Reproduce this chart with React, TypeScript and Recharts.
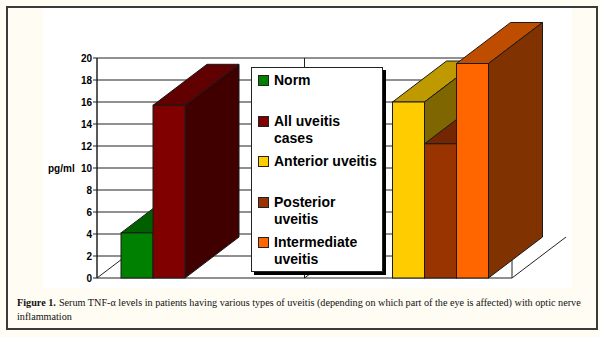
import { BarChart, Bar, XAxis, YAxis, CartesianGrid, Legend } from "recharts";

// two groups on the category axis; each series only has a value in one of them
const categories = ["control", "uveitis"];
const seriesNames = [
  "Norm",
  "All uveitis cases",
  "Anterior uveitis",
  "Posterior uveitis",
  "Intermediate uveitis",
];
const seriesColors = ["#008000", "#800000", "#ffcc00", "#993300", "#ff6600"];
const normValues = [4.1, null];
const allUveitisValues = [15.7, null];
const anteriorValues = [null, 16.0];
const posteriorValues = [null, 12.2];
const intermediateValues = [null, 19.5];
const yTicks = [0, 2, 4, 6, 8, 10, 12, 14, 16, 18, 20];
const captionLines = [
  "Serum TNF-α levels in patients having various types of uveitis (depending on which part of the eye is affected) with optic nerve",
  "inflammation",
];

const seriesValues = [
  normValues,
  allUveitisValues,
  anteriorValues,
  posteriorValues,
  intermediateValues,
];

const data = categories.map((cat, i) => {
  const row: Record<string, string | number | null> = { cat };
  seriesNames.forEach((name, s) => {
    row[name] = seriesValues[s][i];
  });
  return row;
});

const DEPTH_X = 54;
const DEPTH_Y = -41;
const EDGE = "#1a1a1a";
const AXIS_FONT = "'Liberation Sans', Arial, sans-serif";

function shade(hex: string, f: number) {
  const n = parseInt(hex.slice(1), 16);
  const r = Math.round(((n >> 16) & 255) * f);
  const g = Math.round(((n >> 8) & 255) * f);
  const b = Math.round((n & 255) * f);
  return `rgb(${r},${g},${b})`;
}

function Box3D(props: any) {
  const { x, y, width, height, fill } = props;
  if (!(height > 0)) return null;
  const top = `${x},${y} ${x + DEPTH_X},${y + DEPTH_Y} ${x + width + DEPTH_X},${y + DEPTH_Y} ${x + width},${y}`;
  const side = `${x + width},${y} ${x + width + DEPTH_X},${y + DEPTH_Y} ${x + width + DEPTH_X},${y + height + DEPTH_Y} ${x + width},${y + height}`;
  return (
    <g>
      <polygon points={top} fill={shade(fill, 0.75)} stroke={EDGE} strokeWidth={1} />
      <polygon points={side} fill={shade(fill, 0.5)} stroke={EDGE} strokeWidth={1} />
      <rect x={x} y={y} width={width} height={height} fill={fill} stroke={EDGE} strokeWidth={1} />
    </g>
  );
}

// category divider on the back wall plus its floor line
function GridVertical(props: any) {
  const { x1, y1, y2 } = props;
  const bottom = Math.max(y1, y2);
  return (
    <g>
      <line x1={x1} y1={y1} x2={x1} y2={y2} stroke="#222" strokeWidth={1} />
      <line x1={x1} y1={bottom} x2={x1 + DEPTH_X} y2={bottom + DEPTH_Y} stroke="#222" strokeWidth={1} />
    </g>
  );
}

function boundaries({ offset }: any) {
  return categories.map((_, i) => offset.left + (offset.width * i) / categories.length).concat(offset.left + offset.width);
}

function LegendBox({ payload }: { payload?: Array<{ value: string; color: string }> }) {
  if (!payload) return null;
  const items = [...payload].sort((a, b) => seriesNames.indexOf(a.value) - seriesNames.indexOf(b.value));
  return (
    <div
      style={{
        width: 132,
        height: 205,
        boxSizing: "border-box",
        background: "#fff",
        border: "1px solid #222",
        boxShadow: "3px 3px 0 #000",
        padding: "4px 0 0 6px",
        fontFamily: AXIS_FONT,
        fontWeight: "bold",
        fontSize: 14,
        lineHeight: "17px",
        color: "#000",
      }}
    >
      {items.map((entry) => (
        <div key={entry.value} style={{ display: "flex", alignItems: "flex-start", height: 40.5 }}>
          <span
            style={{
              display: "inline-block",
              width: 9,
              height: 9,
              marginTop: 3,
              marginRight: 5,
              background: entry.color,
              border: "1px solid #222",
              flex: "none",
            }}
          />
          <span style={{ width: 107 }}>{entry.value}</span>
        </div>
      ))}
    </div>
  );
}

export default function App() {
  return (
    <div style={{ position: "absolute", left: 0, top: 0, width: 600, height: 337, background: "#fffcf4", overflow: "hidden" }}>
      <div style={{ position: "absolute", left: 43, top: 8, width: 529, height: 280, background: "#fff" }} />
      <div style={{ position: "absolute", left: 0, top: 0 }}>
        <BarChart
          width={600}
          height={337}
          data={data}
          barGap={0}
          barSize={32}
          margin={{ top: 58, right: 88, bottom: 59, left: 47 }}
        >
          <CartesianGrid
            stroke="#222"
            strokeOpacity={1}
            vertical={GridVertical as any}
            verticalCoordinatesGenerator={boundaries as any}
          />
          <XAxis dataKey="cat" hide />
          <YAxis
            width={50}
            domain={[0, 20]}
            ticks={yTicks}
            interval={0}
            tickSize={4}
            tickMargin={1}
            axisLine={{ stroke: "#222" }}
            tickLine={{ stroke: "#222" }}
            tick={{ fill: "#000", fontSize: 10, fontWeight: "bold", fontFamily: AXIS_FONT }}
            label={{
              value: "pg/ml",
              position: "insideLeft",
              offset: 1,
              style: { fill: "#000", fontSize: 10, fontWeight: "bold", fontFamily: AXIS_FONT },
            }}
          />
          <Legend
            layout="vertical"
            align="center"
            verticalAlign="middle"
            content={<LegendBox />}
            wrapperStyle={{ left: 251, top: 67, width: 135 }}
          />
          {seriesNames.map((name, s) => (
            <Bar
              key={name}
              dataKey={name}
              name={name}
              fill={seriesColors[s]}
              shape={Box3D}
              isAnimationActive={false}
            />
          ))}
        </BarChart>
      </div>
      <div
        style={{
          position: "absolute",
          left: 6,
          top: 6,
          width: 592,
          height: 324,
          boxSizing: "border-box",
          border: "2px solid #3a3a3a",
          pointerEvents: "none",
        }}
      />
      <div
        style={{
          position: "absolute",
          left: 17,
          top: 296,
          width: 580,
          fontFamily: "'Liberation Serif', 'Times New Roman', serif",
          fontSize: 10.2,
          lineHeight: "14px",
          color: "#111",
          whiteSpace: "nowrap",
        }}
      >
        <div>
          <span style={{ fontWeight: "bold", marginRight: 3 }}>Figure 1.</span>
          <span>{captionLines[0]}</span>
        </div>
        <div>{captionLines[1]}</div>
      </div>
    </div>
  );
}
